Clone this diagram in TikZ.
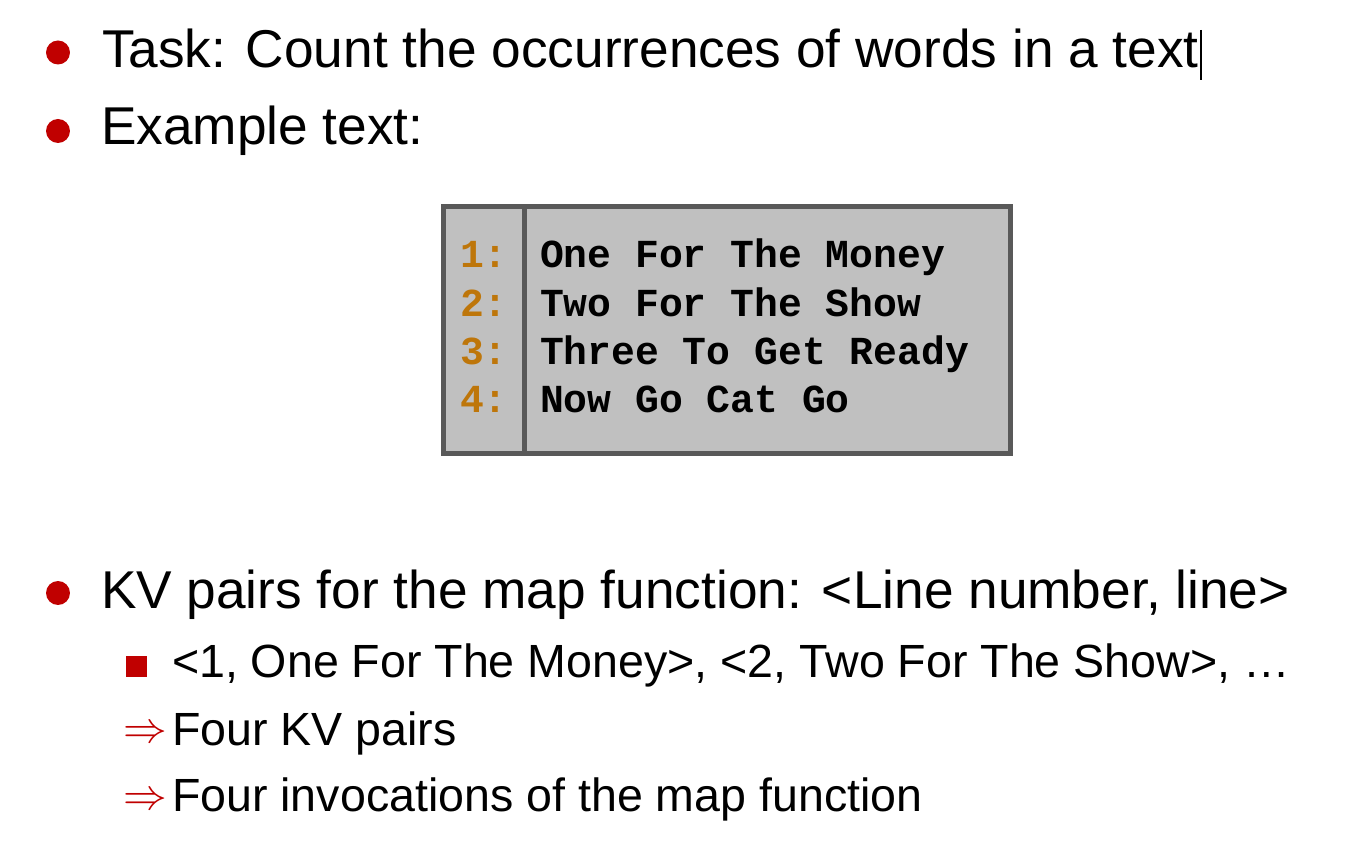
\documentclass[tikz,border=0pt]{standalone}
\usepackage{fontspec}
\setmainfont{Liberation Sans}
\setmonofont{Liberation Mono}
\usetikzlibrary{positioning}
\definecolor{bulletred}{RGB}{192,0,0}
\definecolor{boxgray}{RGB}{192,192,192}
\definecolor{framegray}{RGB}{89,89,89}
\definecolor{numorange}{RGB}{190,118,10}
\tikzset{%
  % Specifications for style of text lines:
            base/.style = {anchor=base west, inner sep=0pt, outer sep=0pt},
		levelone/.style = {base, font=\fontsize{30.3}{36}\selectfont},
		leveltwo/.style = {base, font=\fontsize{26.5}{32}\selectfont},
		codeline/.style = {base, font=\fontsize{22.6}{27}\selectfont\ttfamily\bfseries},
		numline/.style = {codeline, text=numorange},
  % Specifications for style of marks:
		dotmark/.style = {circle, fill=bulletred, inner sep=0pt, minimum size=0.48cm},
		squaremark/.style = {rectangle, fill=bulletred, inner sep=0pt, minimum size=0.42cm},
		arrowmark/.style = {inner sep=0pt, text=bulletred, font=\fontsize{29.5}{34}\selectfont},
		framestyle/.style = {draw=framegray, line width=0.1cm},
}

\begin{document}
\begin{tikzpicture}[x=0.02cm, y=-0.02cm]
  \useasboundingbox[fill=white] (0,0) rectangle (1372,864);
  % Specification of bullets and top lines
  \node (dot1)	[dotmark] at (58,52.5)		{};
  \node (task)	[levelone] at (102,68)		{Task: Count the occurrences of words in a text};
  \node (dot2)	[dotmark] at (58,131)		{};
  \node (example)	[levelone] at (101,145)	{Example text:};
  \draw[line width=0.04cm] (1201,30) -- (1201,80);

  % Specification of the example text box
  \node (codebox) [framestyle, fill=boxgray, minimum width=11.34cm,
                   minimum height=4.94cm, inner sep=0pt] at (727,330) {};
  \coordinate (divx) at (524,0);
  \draw[framestyle] (codebox.north -| divx) -- (codebox.south -| divx);
  \node (n1)	[numline] at (460,268)	{1:};
  \node (n2)	[numline] at (460,317)	{2:};
  \node (n3)	[numline] at (460,365)	{3:};
  \node (n4)	[numline] at (460,413)	{4:};
  \node (l1)	[codeline] at (540,268)	{One For The Money};
  \node (l2)	[codeline] at (540,317)	{Two For The Show};
  \node (l3)	[codeline] at (540,365)	{Three To Get Ready};
  \node (l4)	[codeline] at (540,413)	{Now Go Cat Go};

  % Specification of the lower bullets
  \node (dot3)	[dotmark] at (58,593)		{};
  \node (kv)	[levelone] at (101,608)		{KV pairs for the map function: <Line number, line>};
  \node (sq1)	[squaremark] at (136.5,666.5)	{};
  \node (pairs)	[leveltwo] at (172,677)		{<1, One For The Money>, <2, Two For The Show>, …};
  \node (arr1)	[arrowmark] at (145,734)	{$\Rightarrow$};
  \node (four)	[leveltwo] at (172,745)		{Four KV pairs};
  \node (arr2)	[arrowmark] at (145,801)	{$\Rightarrow$};
  \node (calls)	[leveltwo] at (172,811)		{Four invocations of the map function};
\end{tikzpicture}
\end{document}
